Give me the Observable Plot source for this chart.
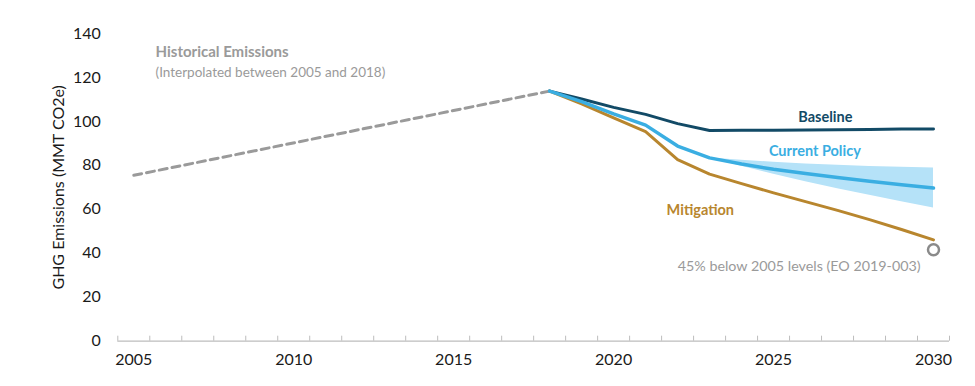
<!DOCTYPE html>
<html>
<head>
<meta charset="utf-8">
<script src="https://cdn.jsdelivr.net/npm/d3@7"></script>
<script src="https://cdn.jsdelivr.net/npm/@observablehq/plot@0.6"></script>
<style>
  html, body { margin: 0; padding: 0; background: #fff; }
  svg { display: block; }
</style>
</head>
<body>
<div id="chart"></div>
<script>
// ---- data ----
const historicalYears = [2005, 2018];
const historicalValues = [75.5, 113.8];

const projYears = [2018, 2019, 2020, 2021, 2022, 2023, 2024, 2025, 2026, 2027, 2028, 2029, 2030];
const baseline      = [113.8, 110.2, 106.4, 103.2, 99.0, 95.9, 96.0, 96.0, 96.1, 96.2, 96.3, 96.5, 96.6];
const currentPolicy = [113.8, 109.0, 103.4, 98.3, 88.8, 83.4, 80.6, 78.2, 76.3, 74.5, 72.8, 71.2, 69.7];
const mitigation    = [113.8, 108.0, 101.6, 95.3, 82.6, 76.0, 71.7, 67.5, 63.5, 59.5, 55.3, 50.8, 46.1];

const bandYears = [2023, 2024, 2025, 2026, 2027, 2028, 2029, 2030];
const bandUpper = [83.4, 82.3, 81.4, 80.6, 80.0, 79.5, 79.1, 78.8];
const bandLower = [83.4, 79.6, 76.0, 72.6, 69.4, 66.4, 63.5, 60.6];

const targetYear = 2030;
const targetValue = 41.6;

const xTickLabels = [2005, 2010, 2015, 2020, 2025, 2030];
const yTicks = [0, 20, 40, 60, 80, 100, 120, 140];

// ---- derived tables ----
const historical = historicalYears.map((x, i) => ({x, y: historicalValues[i]}));
const baseRows = projYears.map((x, i) => ({x, y: baseline[i]}));
const curRows = projYears.map((x, i) => ({x, y: currentPolicy[i]}));
const mitRows = projYears.map((x, i) => ({x, y: mitigation[i]}));
const bandRows = bandYears.map((x, i) => ({x, y1: bandLower[i], y2: bandUpper[i]}));
const boundaries = d3.range(2004.5, 2031, 1);

const font = "Lato, 'Open Sans', sans-serif";

const chart = Plot.plot({
  width: 975,
  height: 386,
  marginLeft: 117.3,
  marginRight: 26,
  marginTop: 33,
  marginBottom: 45.3,
  style: {fontFamily: font, background: "#fff"},
  x: {domain: [2004.5, 2030.5]},
  y: {domain: [0, 140]},
  marks: [
    // y axis labels
    Plot.axisY({ticks: yTicks, tickSize: 0, tickPadding: 17, fontSize: 16, fill: "#1a1a1a",
      label: null}),
    Plot.text(["GHG Emissions (MMT CO2e)"], {frameAnchor: "left", textAnchor: "middle",
      rotate: -90, dx: -59, fontSize: 16, fill: "#1a1a1a"}),
    // x axis line and boundary ticks
    Plot.ruleY([0], {stroke: "#bdbdbd", strokeWidth: 1.3}),
    Plot.axisX({ticks: boundaries, tickSize: 5, dy: -5, tickFormat: () => "", stroke: "#bdbdbd",
      strokeOpacity: 1, label: null}),
    Plot.axisX({ticks: xTickLabels, tickSize: 0, tickPadding: 12, fontSize: 16, fill: "#1a1a1a",
      tickFormat: d => String(d), label: null}),
    // band
    Plot.areaY(bandRows, {x: "x", y1: "y1", y2: "y2", fill: "#b5e2f8"}),
    // historical dashed
    Plot.line(historical, {x: "x", y: "y", stroke: "#9a9a9a", strokeWidth: 3,
      strokeDasharray: "8,5"}),
    // series
    Plot.line(baseRows, {x: "x", y: "y", stroke: "#124a66", strokeWidth: 3}),
    Plot.line(mitRows, {x: "x", y: "y", stroke: "#b8862e", strokeWidth: 3}),
    Plot.line(curRows, {x: "x", y: "y", stroke: "#3aaee2", strokeWidth: 3.5}),
    // target circle
    Plot.dot([{x: targetYear, y: targetValue}], {x: "x", y: "y", r: 5.5, stroke: "#8a8a8a",
      strokeWidth: 2.5, fill: "#fff"}),
    // annotations
    Plot.text(["Historical Emissions"], {x: 2005.68, y: 131.3, textAnchor: "start",
      fontWeight: "bold", fontSize: 15, fill: "#9a9a9a"}),
    Plot.text(["(Interpolated between 2005 and 2018)"], {x: 2005.68, y: 122.3, textAnchor: "start",
      fontSize: 13.5, fill: "#9a9a9a"}),
    Plot.text(["Baseline"], {x: 2026.62, y: 101.8, fontWeight: "bold", fontSize: 14.5, fill: "#124a66"}),
    Plot.text(["Current Policy"], {x: 2026.29, y: 86.3, fontWeight: "bold", fontSize: 14.5, fill: "#3aaee2"}),
    Plot.text(["Mitigation"], {x: 2022.71, y: 59.5, fontWeight: "bold", fontSize: 14.5, fill: "#b8862e"}),
    Plot.text(["45% below 2005 levels (EO 2019-003)"], {x: 2025.8, y: 34.0, fontSize: 14.3,
      fill: "#9a9a9a"})
  ]
});
document.getElementById("chart").appendChild(chart);
</script>
</body>
</html>
